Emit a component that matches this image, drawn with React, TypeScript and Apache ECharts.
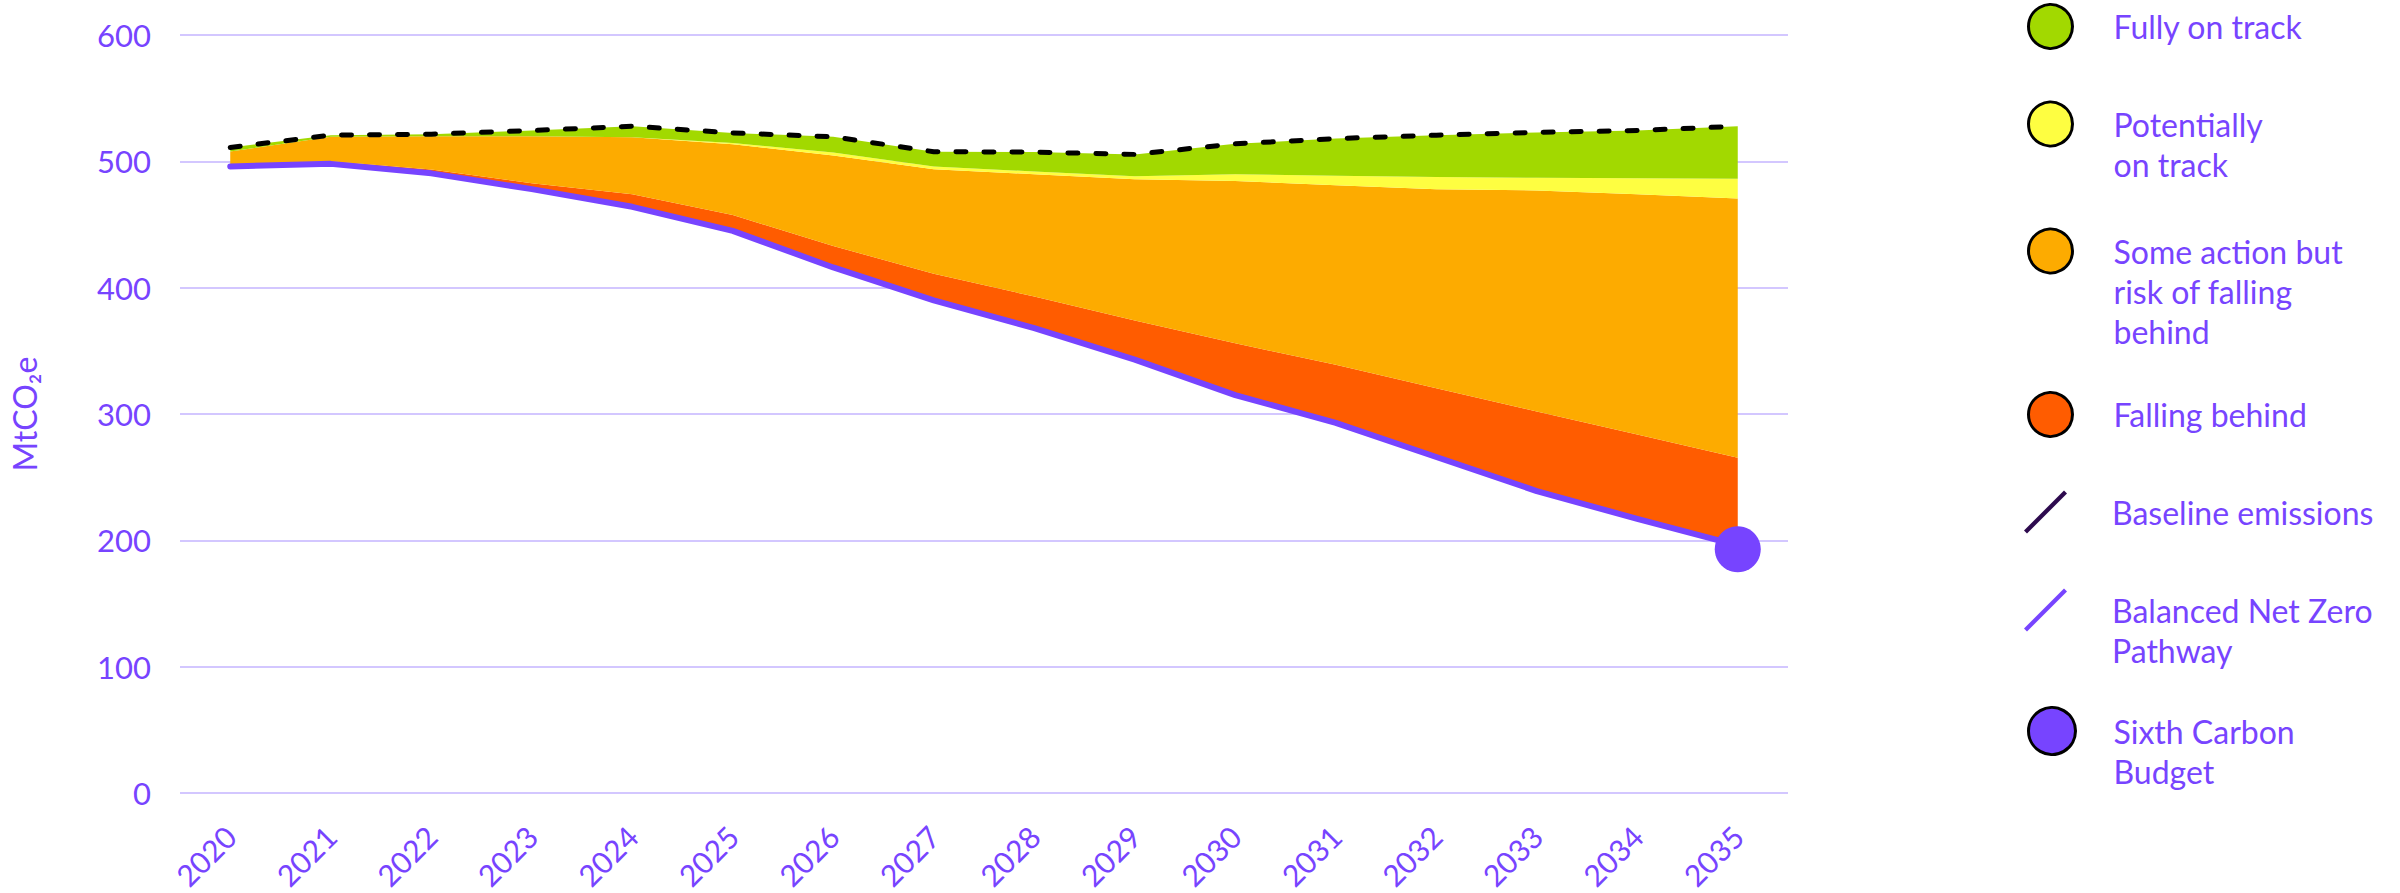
import React, { useEffect, useRef } from 'react';
import * as echarts from 'echarts';

// ---- data ----
const years = ['2020', '2021', '2022', '2023', '2024', '2025', '2026', '2027', '2028', '2029', '2030', '2031', '2032', '2033', '2034', '2035'];
const balancedPathway = [496, 498, 490.5, 478, 464, 445, 416, 390, 368, 343, 315, 293, 266, 239, 217, 196];
const fallingBehind = [1, 2, 3, 4.7, 10, 12.5, 17, 21, 25, 31, 41, 46, 54.5, 63, 66.7, 69.4];
const someAction = [10.7, 19.4, 26.4, 37.2, 45, 56, 71.7, 82.7, 96.8, 111.8, 128.5, 142, 157.5, 175, 190.3, 205.2];
const potentiallyOnTrack = [0, 0, 0, 0, 0, 1, 2.3, 2.3, 2.2, 2.4, 5.3, 7.5, 9.7, 10, 12.6, 15.7];
const fullyOnTrack = [3.3, 1.3, 1.6, 4.5, 8.8, 8, 12.4, 11.6, 15.3, 17.3, 24.1, 29.5, 33, 35.9, 37.8, 41.5];
const baselineEmissions = [511, 520.7, 521.5, 524.4, 527.8, 522.5, 519.4, 507.6, 507.3, 505.5, 513.9, 518, 520.7, 522.9, 524.4, 527.8];
const sixthCarbonBudgetYear = '2035';
const sixthCarbonBudget = 193;
const yMin = 0;
const yMax = 600;
const yStep = 100;

// ---- styles ----
const FONT = 'Lato';
const PURPLE = '#7744ff';
const DARK = '#2d0a4e';
const GREEN = '#a2d900';
const YELLOW = '#fefe41';
const ORANGE = '#fdab00';
const RED = '#ff5c00';
const GRID = '#d3c7ff';

const N_FULLY = 'Fully on track';
const N_POT = 'Potentially on track';
const N_SOME = 'Some action but risk of falling behind';
const N_FALL = 'Falling behind';
const N_BASE = 'Baseline emissions';
const N_BAL = 'Balanced Net Zero Pathway';
const N_SIXTH = 'Sixth Carbon Budget';

const LINE_ICON = 'path://M0,40 L40,0 L43,3 L3,43 Z';

const legendDefs = [
  { name: N_FULLY, lines: ['Fully on track'], center: 25, left: 2027, size: 44, icon: 'circle', color: GREEN, border: true },
  { name: N_POT, lines: ['Potentially', 'on track'], center: 124, left: 2027, size: 44, icon: 'circle', color: YELLOW, border: true },
  { name: N_SOME, lines: ['Some action but', 'risk of falling', 'behind'], center: 251, left: 2027, size: 44, icon: 'circle', color: ORANGE, border: true },
  { name: N_FALL, lines: ['Falling behind'], center: 413, left: 2027, size: 44, icon: 'circle', color: RED, border: true },
  { name: N_BASE, lines: ['Baseline emissions'], center: 512, left: 2024, size: 43, icon: LINE_ICON, color: DARK, border: false },
  { name: N_BAL, lines: ['Balanced Net Zero', 'Pathway'], center: 610, left: 2024, size: 43, icon: LINE_ICON, color: PURPLE, border: false },
  { name: N_SIXTH, lines: ['Sixth Carbon', 'Budget'], center: 731, left: 2027, size: 47, icon: 'circle', color: PURPLE, border: true },
];

const TEXT_X = 2112;
const LH = 40;

function buildOption(): echarts.EChartsOption {
  const legends = legendDefs.map((d) => {
    const n = d.lines.length;
    const boxH = Math.max(d.size, (2 * n - 1) * LH);
    const padLeft = TEXT_X - (d.left + d.size + 5);
    // blank lines before the text so that the icon lines up with the first line
    const label = [...Array(n - 1).fill(' '), ...d.lines].join('\n');
    return {
      show: true,
      orient: 'vertical' as const,
      left: d.left,
      top: d.center - boxH / 2,
      padding: 0,
      selectedMode: false,
      itemWidth: d.size,
      itemHeight: d.size,
      data: [
        {
          name: d.name,
          icon: d.icon,
          itemStyle: d.border
            ? { color: d.color, borderColor: '#000', borderWidth: 3 }
            : { color: d.color, borderWidth: 0 },
        },
      ],
      formatter: () => label,
      textStyle: {
        color: PURPLE,
        fontSize: 32,
        lineHeight: LH,
        fontFamily: FONT,
        padding: [0, 0, 0, padLeft],
      },
    };
  });

  const area = (name: string, data: number[], color: string) => ({
    name,
    type: 'line' as const,
    stack: 'emissions',
    data,
    symbol: 'none',
    showSymbol: false,
    itemStyle: { color },
    lineStyle: { width: 0, color },
    areaStyle: { color, opacity: 1 },
    z: 2,
  });

  return {
    animation: false,
    backgroundColor: '#ffffff',
    textStyle: { fontFamily: FONT },
    grid: { left: 176, right: 612, top: 35, bottom: 96, containLabel: false },
    legend: legends as any,
    xAxis: {
      type: 'category',
      data: years,
      boundaryGap: true,
      axisLine: { show: false },
      axisTick: { show: false },
      axisLabel: {
        rotate: 45,
        margin: 38,
        color: PURPLE,
        fontSize: 30,
        fontFamily: FONT,
        interval: 0,
      },
      splitLine: { show: false },
    },
    yAxis: {
      type: 'value',
      min: yMin,
      max: yMax,
      interval: yStep,
      name: 'MtCO₂e',
      nameLocation: 'middle',
      nameGap: 140,
      nameTextStyle: { color: PURPLE, fontSize: 32, fontFamily: FONT },
      axisLine: { show: false },
      axisTick: { show: false },
      axisLabel: { color: PURPLE, fontSize: 31, fontFamily: FONT, margin: 29 },
      splitLine: { show: true, lineStyle: { color: GRID, width: 2 } },
    },
    series: [
      {
        name: N_BAL,
        type: 'line',
        stack: 'emissions',
        data: balancedPathway,
        symbol: 'none',
        showSymbol: false,
        itemStyle: { color: PURPLE },
        lineStyle: { color: PURPLE, width: 6, cap: 'round', join: 'round' },
        z: 4,
      },
      area(N_FALL, fallingBehind, RED),
      area(N_SOME, someAction, ORANGE),
      area(N_POT, potentiallyOnTrack, YELLOW),
      area(N_FULLY, fullyOnTrack, GREEN),
      {
        name: N_BASE,
        type: 'line',
        data: baselineEmissions,
        symbol: 'none',
        showSymbol: false,
        itemStyle: { color: '#000' },
        lineStyle: { color: '#000', width: 5, type: [10, 18], cap: 'round', join: 'round' },
        z: 5,
      },
      {
        name: N_SIXTH,
        type: 'scatter',
        data: [[sixthCarbonBudgetYear, sixthCarbonBudget]],
        symbol: 'circle',
        symbolSize: 46,
        itemStyle: { color: PURPLE, opacity: 1 },
        z: 6,
      },
    ],
  } as echarts.EChartsOption;
}

export default function App() {
  const ref = useRef<HTMLDivElement>(null);
  useEffect(() => {
    document.body.style.margin = '0';
    if (!ref.current) return;
    const chart = echarts.init(ref.current, undefined, { renderer: 'svg' });
    chart.setOption(buildOption());
    return () => chart.dispose();
  }, []);
  return <div ref={ref} style={{ width: 2400, height: 893 }} />;
}
